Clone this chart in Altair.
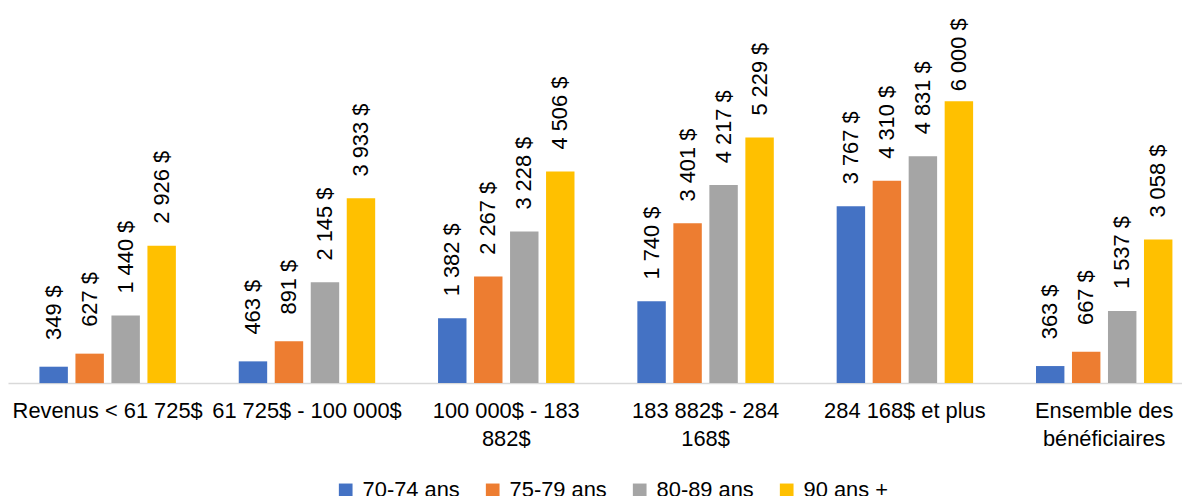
import json
import altair as alt
import pandas as pd

CATS = ["Revenus < 61 725$", "61 725$ - 100 000$", "100 000$ - 183 882$",
        "183 882$ - 284 168$", "284 168$ et plus", "Ensemble des bénéficiaires"]
LABEL_LINES = [["Revenus < 61 725$"], ["61 725$ - 100 000$"], ["100 000$ - 183", "882$"],
               ["183 882$ - 284", "168$"], ["284 168$ et plus"], ["Ensemble des", "bénéficiaires"]]
SERIES = ["70-74 ans", "75-79 ans", "80-89 ans", "90 ans +"]
COLORS = ["#4472C4", "#ED7D31", "#A5A5A5", "#FFC000"]
V_70 = [349, 463, 1382, 1740, 3767, 363]
V_75 = [627, 891, 2267, 3401, 4310, 667]
V_80 = [1440, 2145, 3228, 4217, 4831, 1537]
V_90 = [2926, 3933, 4506, 5229, 6000, 3058]

rows = []
for s, vals in zip(SERIES, [V_70, V_75, V_80, V_90]):
    for c, v in zip(CATS, vals):
        rows.append({"cat": c, "serie": s, "value": v,
                     "label": f"{v:,}".replace(",", " ") + " $"})
df = pd.DataFrame(rows)

label_expr = f"{json.dumps(LABEL_LINES)}[indexof({json.dumps(CATS)}, datum.value)]"

FONT = "Liberation Sans"

x = alt.X("cat:N", sort=CATS, title=None,
          scale=alt.Scale(range=[0, 1204], paddingInner=0, paddingOuter=0),
          axis=alt.Axis(labelExpr=label_expr, labelAngle=0, ticks=False,
                        domainColor="#D9D9D9", domainWidth=1.5,
                        labelFont=FONT, labelFontSize=22, labelColor="#000000",
                        labelPadding=18, labelLineHeight=28, labelLimit=400,
                        labelOverlap=False, labelFlush=False, labelBound=False,
                        labelAlign="center", labelBaseline="top"))
xo = alt.XOffset("serie:N", sort=SERIES,
                 scale=alt.Scale(paddingInner=0.21, paddingOuter=0.873))
y = alt.Y("value:Q", scale=alt.Scale(domain=[0, 7950]), axis=None)

base = alt.Chart(df).encode(x=x, xOffset=xo, y=y)

bars = base.mark_bar().encode(
    color=alt.Color("serie:N", sort=SERIES,
                    scale=alt.Scale(domain=SERIES, range=COLORS),
                    legend=alt.Legend(orient="none", legendX=329, legendY=473,
                                      direction="horizontal", columns=4, title=None,
                                      symbolType="square", symbolSize=190,
                                      symbolStrokeWidth=0, labelFont=FONT,
                                      labelFontSize=22, labelColor="#000000",
                                      labelOffset=6, columnPadding=22,
                                      labelLimit=300, gridAlign="all"))
)

texts = base.mark_text(
    angle=270, align="left", baseline="middle", font=FONT, fontSize=22,
    color="#000000",
    dx=alt.expr("datum.value >= 6000 ? 10 : (datum.value < 1000 ? 27 : 22)")
).encode(text="label:N")

chart = alt.layer(bars, texts).properties(
    width=1182, height=376,
    autosize=alt.AutoSizeParams(type="none"),
    padding={"left": 0, "top": 0, "right": 0, "bottom": 112},
).configure_view(stroke=None)

chart.save("out.html", embed_options={"renderer": "svg", "actions": False})
